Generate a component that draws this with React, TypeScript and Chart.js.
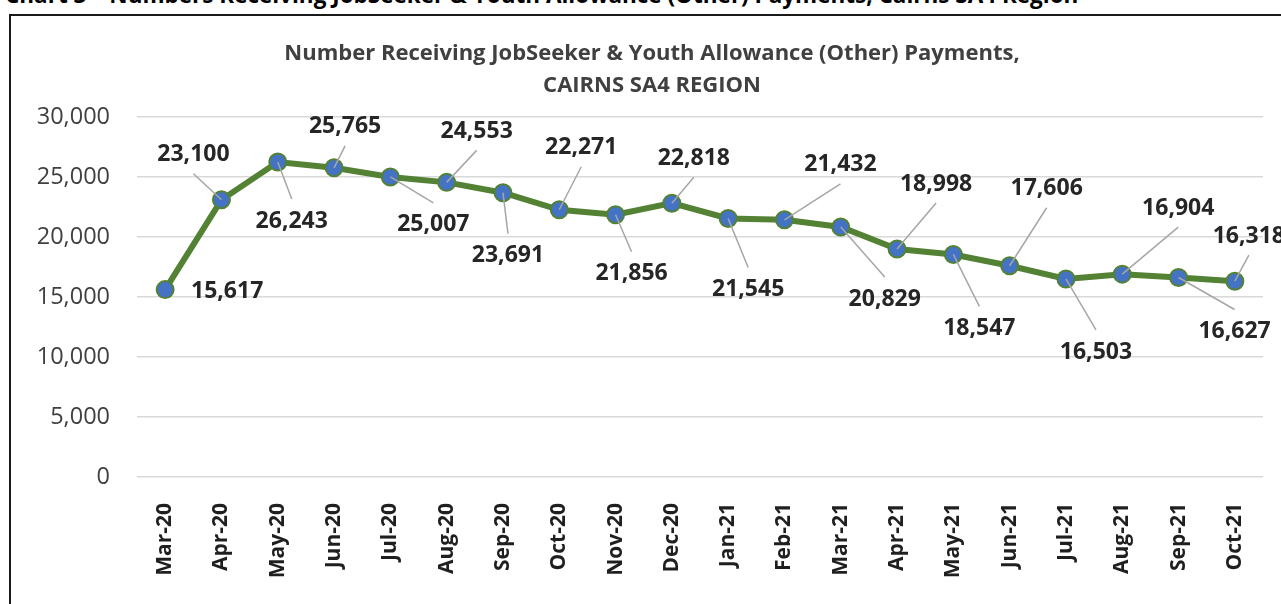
import React, { useEffect, useRef } from "react";
import { Chart, registerables } from "chart.js";

Chart.register(...registerables);

const months = [
  "Mar-20", "Apr-20", "May-20", "Jun-20", "Jul-20", "Aug-20", "Sep-20", "Oct-20", "Nov-20", "Dec-20",
  "Jan-21", "Feb-21", "Mar-21", "Apr-21", "May-21", "Jun-21", "Jul-21", "Aug-21", "Sep-21", "Oct-21",
];

const recipients = [
  15617, 23100, 26243, 25765, 25007, 24553, 23691, 22271, 21856, 22818,
  21545, 21432, 20829, 18998, 18547, 17606, 16503, 16904, 16627, 16318,
];

// label placement (style): offset of each data label from its point, in px
const labelOffsetX = [62, -28, 14, 11, 43, 30, 5, 22, 16, 22, 20, 56, 44, 39, 26, 37, 30, 56, 56, 14];
const labelOffsetY = [1, -46, 58, -42, 47, -52, 62, -63, 58, -46, 70, -56, 71, -66, 73, -78, 72, -67, 53, -46];

const yMin = 0;
const yMax = 30000;
const yStep = 5000;

const chartTitle = [
  "Number Receiving JobSeeker & Youth Allowance (Other) Payments,",
  "CAIRNS SA4 REGION",
];
const pageCaption =
  "Chart 3 – Numbers Receiving JobSeeker & Youth Allowance (Other) Payments, Cairns SA4 Region";

const FONT = "'Open Sans', 'DejaVu Sans', sans-serif";

const titlePlugin = {
  id: "centredTitle",
  afterDraw(chart: any) {
    const ctx = chart.ctx;
    ctx.save();
    ctx.font = `bold 22px ${FONT}`;
    ctx.fillStyle = "#404040";
    ctx.textAlign = "center";
    ctx.textBaseline = "middle";
    chartTitle.forEach((line, i) => {
      ctx.fillText(line, 641, 38 + i * 32);
    });
    ctx.restore();
  },
};

const leaderLabelPlugin = {
  id: "leaderLabels",
  afterDatasetsDraw(chart: any) {
    const ctx = chart.ctx;
    const meta = chart.getDatasetMeta(0);
    ctx.save();
    ctx.font = `bold 23px ${FONT}`;
    ctx.textAlign = "center";
    ctx.textBaseline = "middle";
    meta.data.forEach((pt: any, i: number) => {
      const cx = pt.x + labelOffsetX[i];
      const cy = pt.y + labelOffsetY[i];
      if (Math.abs(labelOffsetY[i]) > 25) {
        const sy = labelOffsetY[i] < 0 ? cy + 20 : cy - 21;
        ctx.beginPath();
        ctx.moveTo(cx, sy);
        ctx.lineTo(pt.x, pt.y);
        ctx.strokeStyle = "#a6a6a6";
        ctx.lineWidth = 1.5;
        ctx.stroke();
      }
      ctx.fillStyle = "#262626";
      ctx.fillText(recipients[i].toLocaleString("en-US"), cx, cy + 1);
    });
    ctx.restore();
  },
};

export default function App() {
  const ref = useRef<HTMLCanvasElement>(null);

  useEffect(() => {
    if (!ref.current) return;
    Chart.defaults.font.family = FONT;
    const chart = new Chart(ref.current, {
      type: "line",
      data: {
        labels: months,
        datasets: [
          {
            data: recipients,
            borderColor: "#548235",
            borderWidth: 6,
            pointBackgroundColor: "#4472C4",
            pointBorderColor: "#548235",
            pointBorderWidth: 2,
            pointRadius: 8.5,
            tension: 0,
          },
        ],
      },
      options: {
        animation: false,
        responsive: false,
        layout: { padding: { top: 101, right: 18, bottom: 0, left: 0 } },
        plugins: {
          legend: { display: false },
          tooltip: { enabled: false },
          title: { display: false },
        },
        scales: {
          x: {
            offset: true,
            grid: { display: false },
            border: { display: false },
            ticks: {
              autoSkip: false,
              minRotation: 90,
              maxRotation: 90,
              padding: 18,
              color: "#1f1f1f",
              font: { size: 21, weight: "bold" },
            },
            afterFit: (s: any) => {
              s.height = 127;
            },
          },
          y: {
            min: yMin,
            max: yMax,
            ticks: {
              stepSize: yStep,
              padding: 27,
              color: "#404040",
              font: { size: 23.5 },
            },
            grid: { color: "#d9d9d9", lineWidth: 1.5, drawTicks: false },
            border: { display: false },
            afterFit: (s: any) => {
              s.width = 126;
            },
          },
        },
      },
      plugins: [titlePlugin, leaderLabelPlugin],
    });
    return () => chart.destroy();
  }, []);

  return (
    <div
      style={{
        position: "fixed",
        left: 0,
        top: 0,
        width: 1281,
        height: 604,
        overflow: "hidden",
        background: "#fff",
      }}
    >
      <div
        style={{
          position: "absolute",
          left: 5,
          top: -16,
          font: `bold 22.5px ${FONT}`,
          lineHeight: "22px",
          whiteSpace: "nowrap",
          color: "#000",
        }}
      >
        {pageCaption}
      </div>
      <div
        style={{
          position: "absolute",
          left: 9,
          top: 14,
          width: 1300,
          height: 700,
          border: "2px solid #1a1a1a",
          boxSizing: "border-box",
        }}
      />
      <canvas
        ref={ref}
        width={1270}
        height={588}
        style={{ position: "absolute", left: 11, top: 16, width: 1270, height: 588 }}
      />
    </div>
  );
}
